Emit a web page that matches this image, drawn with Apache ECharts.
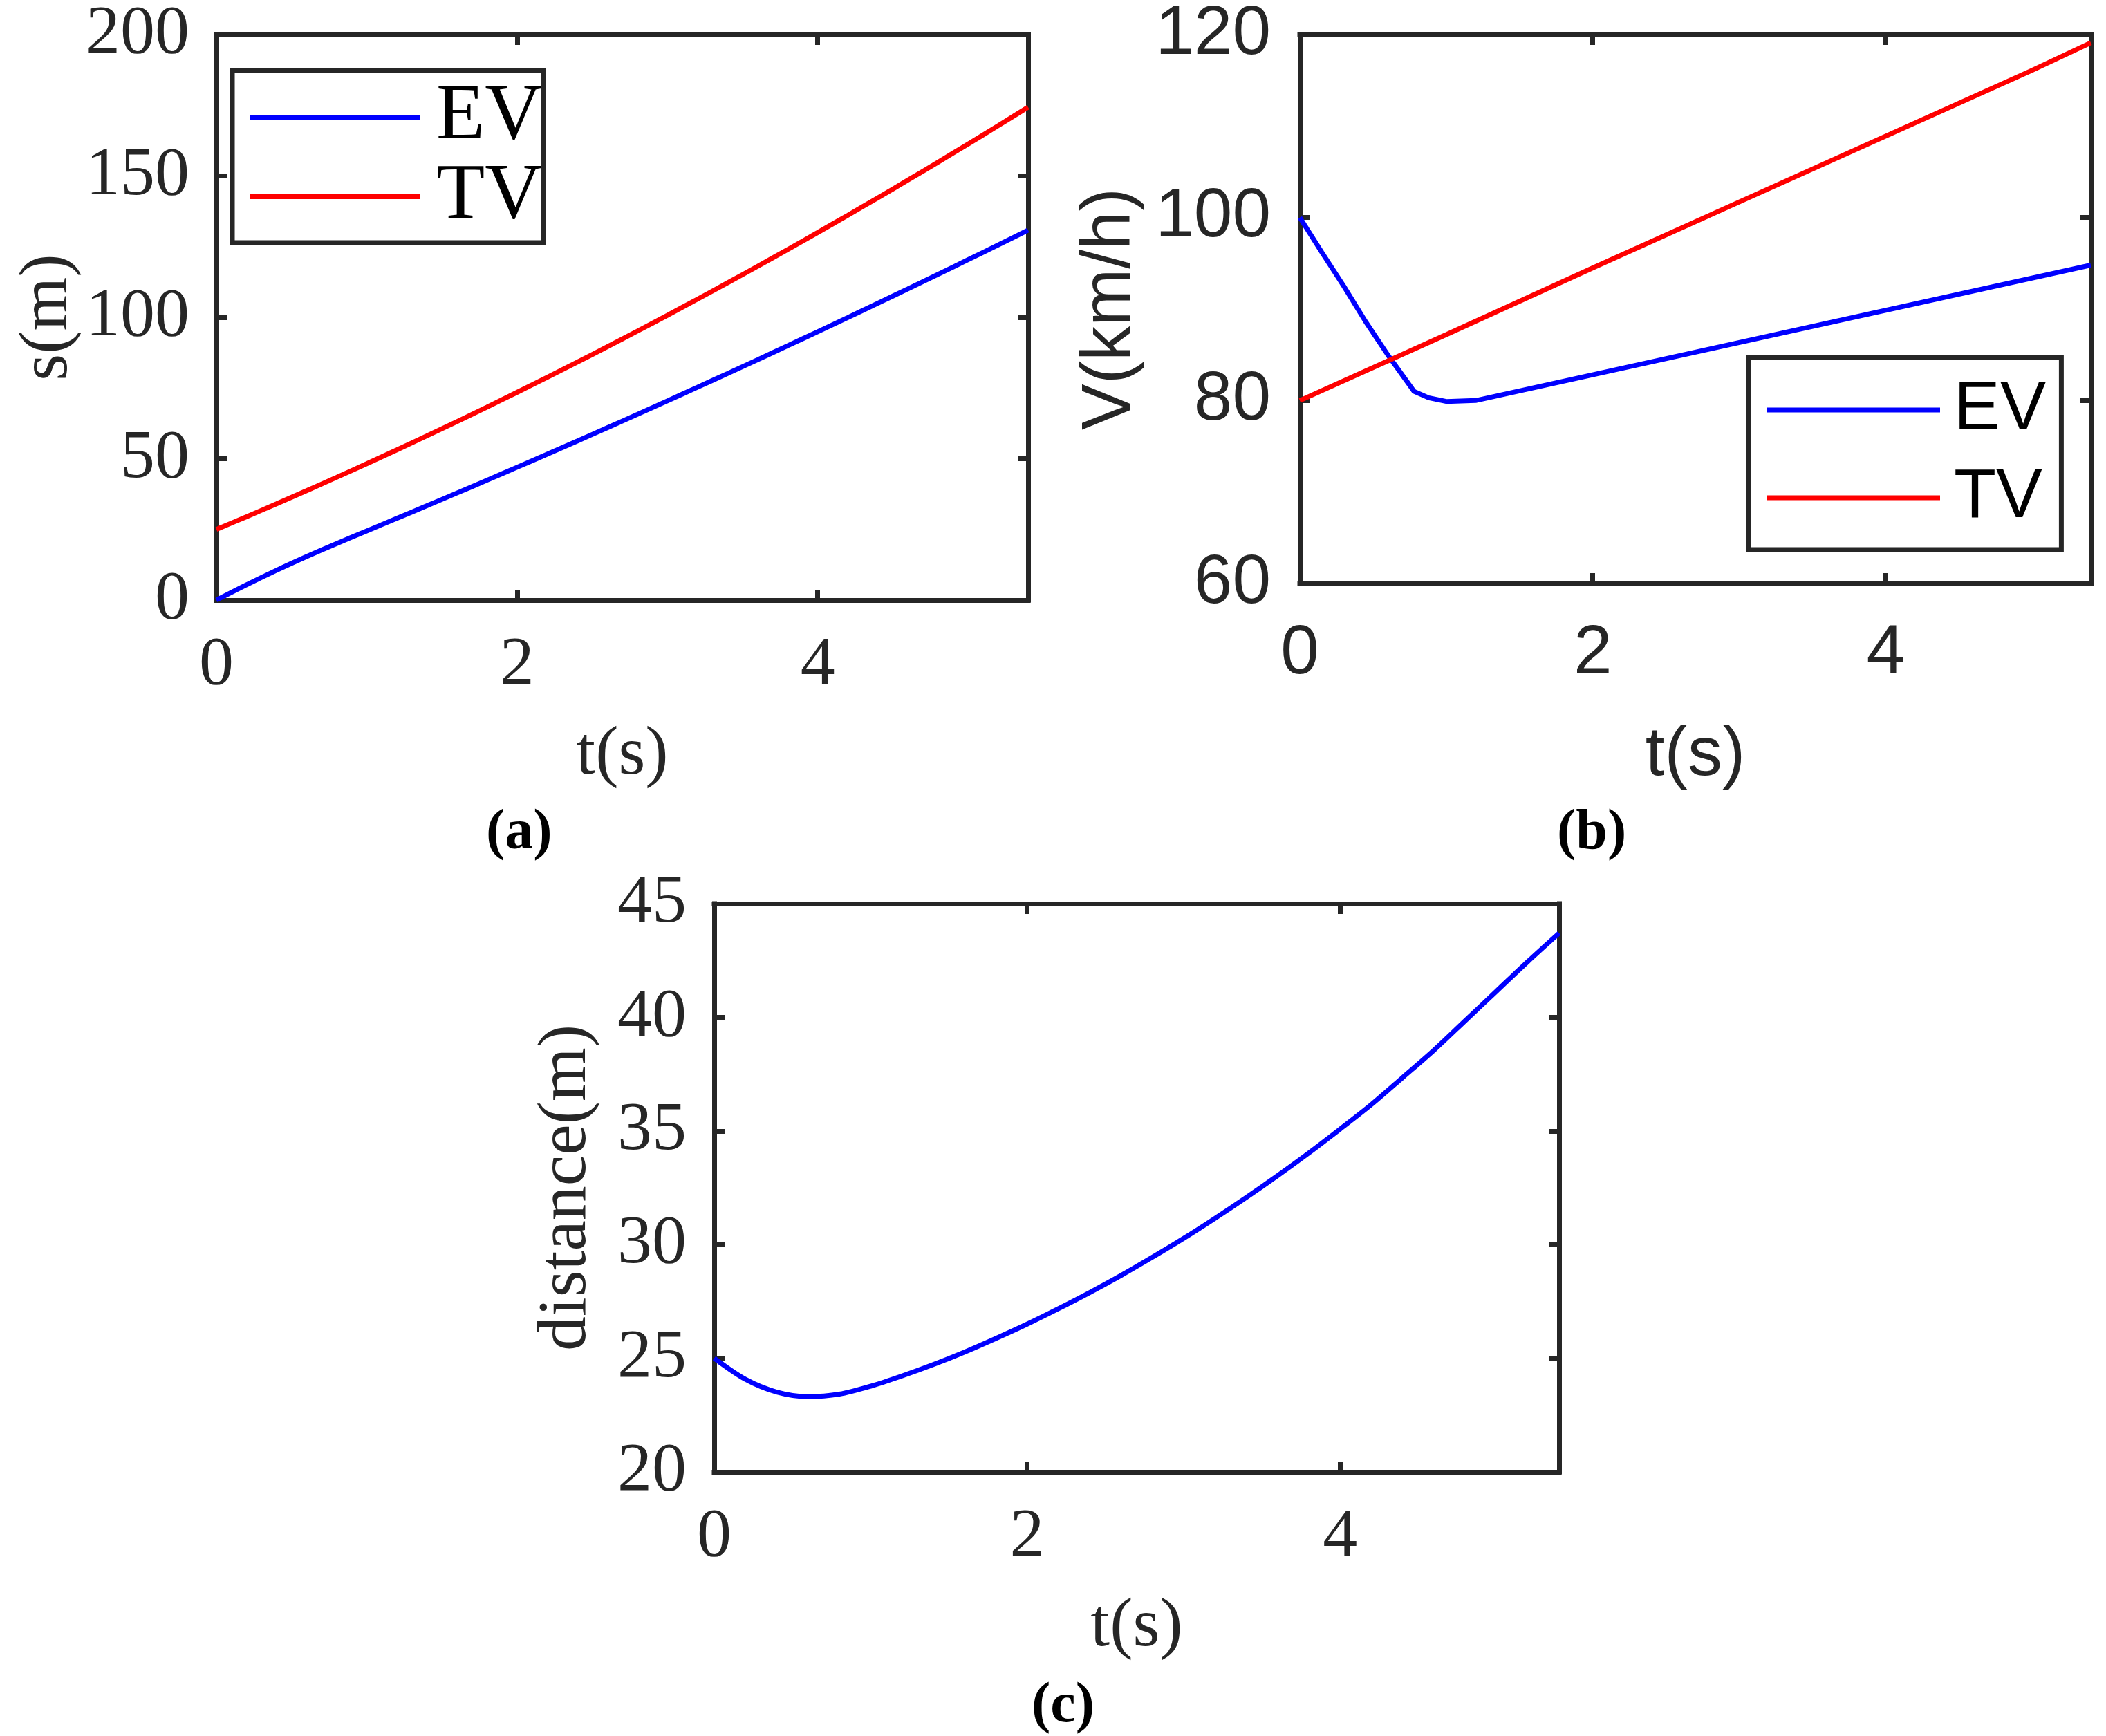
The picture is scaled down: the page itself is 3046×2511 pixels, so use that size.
<!DOCTYPE html>
<html>
<head>
<meta charset="utf-8">
<script src="https://cdn.jsdelivr.net/npm/echarts@6.0.0/dist/echarts.min.js"></script>
<style>
  html, body { margin: 0; padding: 0; background: #fff; }
  #chart { width: 3046px; height: 2511px; }
</style>
</head>
<body>
<div id="chart"></div>
<script>
// time axis shared by the position and distance curves (s)
const timeGrid = [0, 0.2, 0.4, 0.6, 0.8, 1.0, 1.2, 1.4, 1.6, 1.8, 2.0, 2.2, 2.4, 2.6,
  2.8, 3.0, 3.2, 3.4, 3.6, 3.8, 4.0, 4.2, 4.4, 4.6, 4.8, 5.0, 5.2, 5.4];

// (a) position s(m)
const evPosition = [0, 5.41, 10.54, 15.39, 20.00, 24.46, 28.90, 33.36, 37.86, 42.39,
  46.97, 51.58, 56.24, 60.94, 65.67, 70.45, 75.26, 80.12, 85.01, 89.94,
  94.91, 99.92, 104.98, 110.07, 115.20, 120.37, 125.58, 130.83];
const tvPosition = [25.0, 29.48, 34.05, 38.70, 43.42, 48.23, 53.12, 58.08, 63.13, 68.26,
  73.47, 78.76, 84.13, 89.58, 95.11, 100.72, 106.41, 112.19, 118.04, 123.97,
  129.99, 136.08, 142.25, 148.51, 154.85, 161.26, 167.76, 174.34];

// (b) speed V(km/h)
const evSpeedTime = [0, 0.15, 0.3, 0.45, 0.6, 0.78, 0.88, 1.0, 1.2, 5.4];
const evSpeed = [100, 96.2, 92.5, 88.6, 85.0, 81.0, 80.3, 79.9, 80.0, 94.8];
const tvSpeedTime = [0, 1, 2, 3, 4, 5, 5.4];
const tvSpeed = [80.0, 87.2, 94.5, 101.7, 108.9, 116.1, 119.1];

// (c) gap between the two vehicles (m)
const distance = [25.0, 24.07, 23.51, 23.31, 23.42, 23.77, 24.22, 24.72, 25.27, 25.87,
  26.50, 27.18, 27.89, 28.64, 29.44, 30.27, 31.15, 32.07, 33.03, 34.03,
  35.08, 36.16, 37.35, 38.55, 39.85, 41.15, 42.45, 43.70];

// tick labels
const xTicks = [0, 2, 4];
const posTicks = [0, 50, 100, 150, 200];
const speedTicks = [60, 80, 100, 120];
const distTicks = [20, 25, 30, 35, 40, 45];

const T_MAX = 5.4;
const AXIS = '#262626';
const SERIF = 'Liberation Serif';
const SANS = 'Liberation Sans';
const LINE_W = 7;

function pairs(xs, ys) {
  return xs.map((x, i) => [x, ys[i]]);
}

function lineStyle() {
  return { color: AXIS, width: 7, cap: 'square' };
}

// one panel = bottom+top x axes, left+right y axes (MATLAB style box with inner ticks)
function panelAxes(g, p) {
  const font = { fontFamily: p.font, fontSize: 100, color: AXIS };
  const tick = (vals) => ({ show: true, inside: true, length: 15, customValues: vals, lineStyle: { color: AXIS, width: 7 } });
  const yMin = p.yTicks[0];
  const yMax = p.yTicks[p.yTicks.length - 1];
  const xs = [
    {
      type: 'value', gridIndex: g, position: 'bottom', min: 0, max: T_MAX,
      axisLine: { show: true, onZero: false, lineStyle: lineStyle() },
      axisTick: tick(xTicks),
      axisLabel: Object.assign({ show: true, customValues: xTicks, margin: p.xMargin }, font),
      splitLine: { show: false },
      name: 't(s)', nameLocation: 'middle', nameGap: p.xNameGap, nameTextStyle: font
    },
    {
      type: 'value', gridIndex: g, position: 'top', min: 0, max: T_MAX,
      axisLine: { show: true, onZero: false, lineStyle: lineStyle() },
      axisTick: tick(xTicks),
      axisLabel: { show: false },
      splitLine: { show: false }
    }
  ];
  const ys = [
    {
      type: 'value', gridIndex: g, position: 'left', min: yMin, max: yMax,
      axisLine: { show: true, onZero: false, lineStyle: lineStyle() },
      axisTick: tick(p.yTicks),
      axisLabel: Object.assign({ show: true, customValues: p.yTicks, margin: p.yMargin }, font),
      splitLine: { show: false },
      name: p.yName, nameLocation: 'middle', nameGap: p.yNameGap, nameTextStyle: font
    },
    {
      type: 'value', gridIndex: g, position: 'right', min: yMin, max: yMax,
      axisLine: { show: true, onZero: false, lineStyle: lineStyle() },
      axisTick: tick(p.yTicks),
      axisLabel: { show: false },
      splitLine: { show: false }
    }
  ];
  return { xs, ys };
}

const pa = panelAxes(0, { font: SERIF, yTicks: posTicks, yName: 's(m)', xMargin: 45, yMargin: 39, xNameGap: 175, yNameGap: 188 });
const pb = panelAxes(1, { font: SANS, yTicks: speedTicks, yName: 'V(km/h)', xMargin: 52, yMargin: 42, xNameGap: 199, yNameGap: 224 });
const pc = panelAxes(2, { font: SERIF, yTicks: distTicks, yName: 'distance(m)', xMargin: 45, yMargin: 40, xNameGap: 175, yNameGap: 163 });

function curve(name, xi, xs, ys, color, smooth) {
  return {
    type: 'line', name: name, xAxisIndex: xi, yAxisIndex: xi,
    data: pairs(xs, ys), symbol: 'none', showSymbol: false,
    smooth: smooth ? 0.3 : false,
    lineStyle: { width: LINE_W, color: color }, itemStyle: { color: color },
    silent: true
  };
}

// legend icon: a flat bar (itemWidth x itemHeight), no marker dot on it
const legendBase = {
  orient: 'vertical', selectedMode: false,
  data: [{ name: 'EV', icon: 'rect' }, { name: 'TV', icon: 'rect' }],
  borderColor: AXIS, borderWidth: 7, backgroundColor: '#fff',
  itemHeight: LINE_W
};

const captionStyle = { fontFamily: SERIF, fontWeight: 'bold', fontSize: 82, color: '#000' };

const chart = echarts.init(document.getElementById('chart'), null, { renderer: 'canvas' });
chart.setOption({
  backgroundColor: '#fff',
  animation: false,
  title: [
    { text: '(a)', left: 703, top: 1165, textStyle: captionStyle, padding: 0 },
    { text: '(b)', left: 2252, top: 1165, textStyle: captionStyle, padding: 0 },
    { text: '(c)', left: 1492, top: 2428, textStyle: captionStyle, padding: 0 }
  ],
  grid: [
    { left: 313, top: 47, width: 1174, height: 821 },
    { left: 1880, top: 43, width: 1144, height: 801 },
    { left: 1033, top: 1307, width: 1222, height: 822 }
  ],
  xAxis: [].concat(pa.xs, pb.xs, pc.xs),
  yAxis: [].concat(pa.ys, pb.ys, pc.ys),
  legend: [
    Object.assign({}, legendBase, {
      left: 336, top: 102, itemWidth: 245, itemGap: 0, padding: [10, 2, 9, 26],
      textStyle: { fontFamily: SERIF, fontSize: 115, color: '#000', padding: [0, 0, 0, 19] }
    }),
    Object.assign({}, legendBase, {
      left: 2529, top: 517, itemWidth: 251, itemGap: 27, padding: [26, 22, 25, 26],
      textStyle: { fontFamily: SANS, fontSize: 100, color: '#000', padding: [0, 0, 0, 15] }
    })
  ],
  series: [
    curve('EV', 0, timeGrid, evPosition, '#0000ff', true),
    curve('TV', 0, timeGrid, tvPosition, '#ff0000', true),
    curve('EV', 2, evSpeedTime, evSpeed, '#0000ff', false),
    curve('TV', 2, tvSpeedTime, tvSpeed, '#ff0000', false),
    curve('distance', 4, timeGrid, distance, '#0000ff', true)
  ]
});
</script>
</body>
</html>
